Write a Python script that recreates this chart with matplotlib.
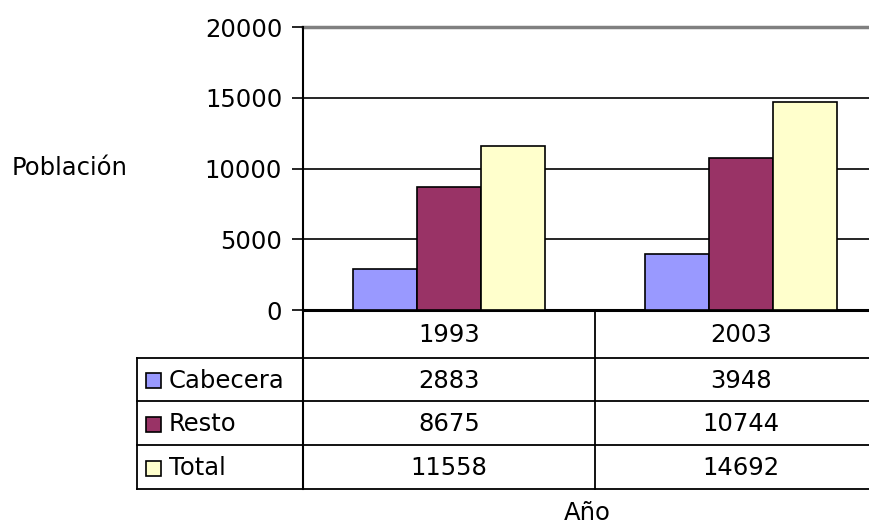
import matplotlib
matplotlib.use('Agg')
import numpy as np
import matplotlib.pyplot as plt
from matplotlib.patches import Rectangle

# datos
years = ['1993', '2003']
series = ['Cabecera', 'Resto', 'Total']
cabecera = [2883, 3948]
resto = [8675, 10744]
total = [11558, 14692]
colors = ['#9999FF', '#993366', '#FFFFCC']
y_ticks = [0, 5000, 10000, 15000, 20000]

W, H = 870, 525
FS = 17.5

plt.rcParams['font.family'] = ['DejaVu Sans']

fig = plt.figure(figsize=(W / 100, H / 100), dpi=100)

# eje principal (se sale un poco por la derecha, como el original)
ax = fig.add_axes([303 / W, 1 - 310 / H, 584 / W, 283 / H])
x = np.arange(len(years))
bw = 0.22
values = [cabecera, resto, total]
for i, (vals, c) in enumerate(zip(values, colors)):
    ax.bar(x + (i - 1) * bw, vals, bw, color=c, edgecolor='black',
           linewidth=1.2, zorder=3)

ax.set_xlim(-0.5, len(years) - 0.5)
ax.set_ylim(0, 20000)
ax.set_yticks(y_ticks)
ax.set_yticklabels([str(v) for v in y_ticks], fontsize=FS)
ax.tick_params(axis='y', direction='out', length=8, width=1.2, pad=7,
               color='black')
ax.set_xticks([])
for t in y_ticks[1:-1]:
    ax.axhline(t, color='black', linewidth=1.2, zorder=1)
ax.axhline(20000, color='#808080', linewidth=2.5, zorder=1, clip_on=False)
for s in ['top', 'right']:
    ax.spines[s].set_visible(False)
ax.spines['left'].set_linewidth(1.5)
ax.spines['bottom'].set_linewidth(2.2)

# tabla de datos en pixeles de la figura
tab = fig.add_axes([0, 0, 1, 1], zorder=5)
tab.set_xlim(0, W)
tab.set_ylim(H, 0)
tab.axis('off')
tab.patch.set_alpha(0)

bounds = [ax.transData.transform((b, 0))[0] for b in np.arange(len(years) + 1) - 0.5]
row_lines = [358, 401, 445, 489]
left = 137
lw = 1.3

# lineas verticales
tab.plot([bounds[0], bounds[0]], [310, row_lines[-1]], color='black', lw=1.5)
for b in bounds[1:]:
    tab.plot([b, b], [310, row_lines[-1]], color='black', lw=lw)
tab.plot([left, left], [row_lines[0], row_lines[-1]], color='black', lw=lw)
# lineas horizontales
for r in row_lines:
    tab.plot([left, bounds[-1]], [r, r], color='black', lw=lw)

# encabezado
for j, yr in enumerate(years):
    tab.text((bounds[j] + bounds[j + 1]) / 2, 335, yr, ha='center',
             va='center', fontsize=FS)

# filas
for i, (name, vals, c) in enumerate(zip(series, values, colors)):
    yc = (row_lines[i] + row_lines[i + 1]) / 2 + 1
    tab.add_patch(Rectangle((146, yc - 7.5), 15, 15, facecolor=c,
                            edgecolor='black', linewidth=1.2))
    tab.text(169, yc, name, ha='left', va='center', fontsize=FS)
    for j, v in enumerate(vals):
        tab.text((bounds[j] + bounds[j + 1]) / 2, yc, str(v), ha='center',
                 va='center', fontsize=FS)

# titulos de ejes
tab.text(70, 168, 'Población', ha='center', va='center', fontsize=FS)
tab.text(587, 513, 'Año', ha='center', va='center', fontsize=FS)

fig.savefig('out.png', dpi=100)
